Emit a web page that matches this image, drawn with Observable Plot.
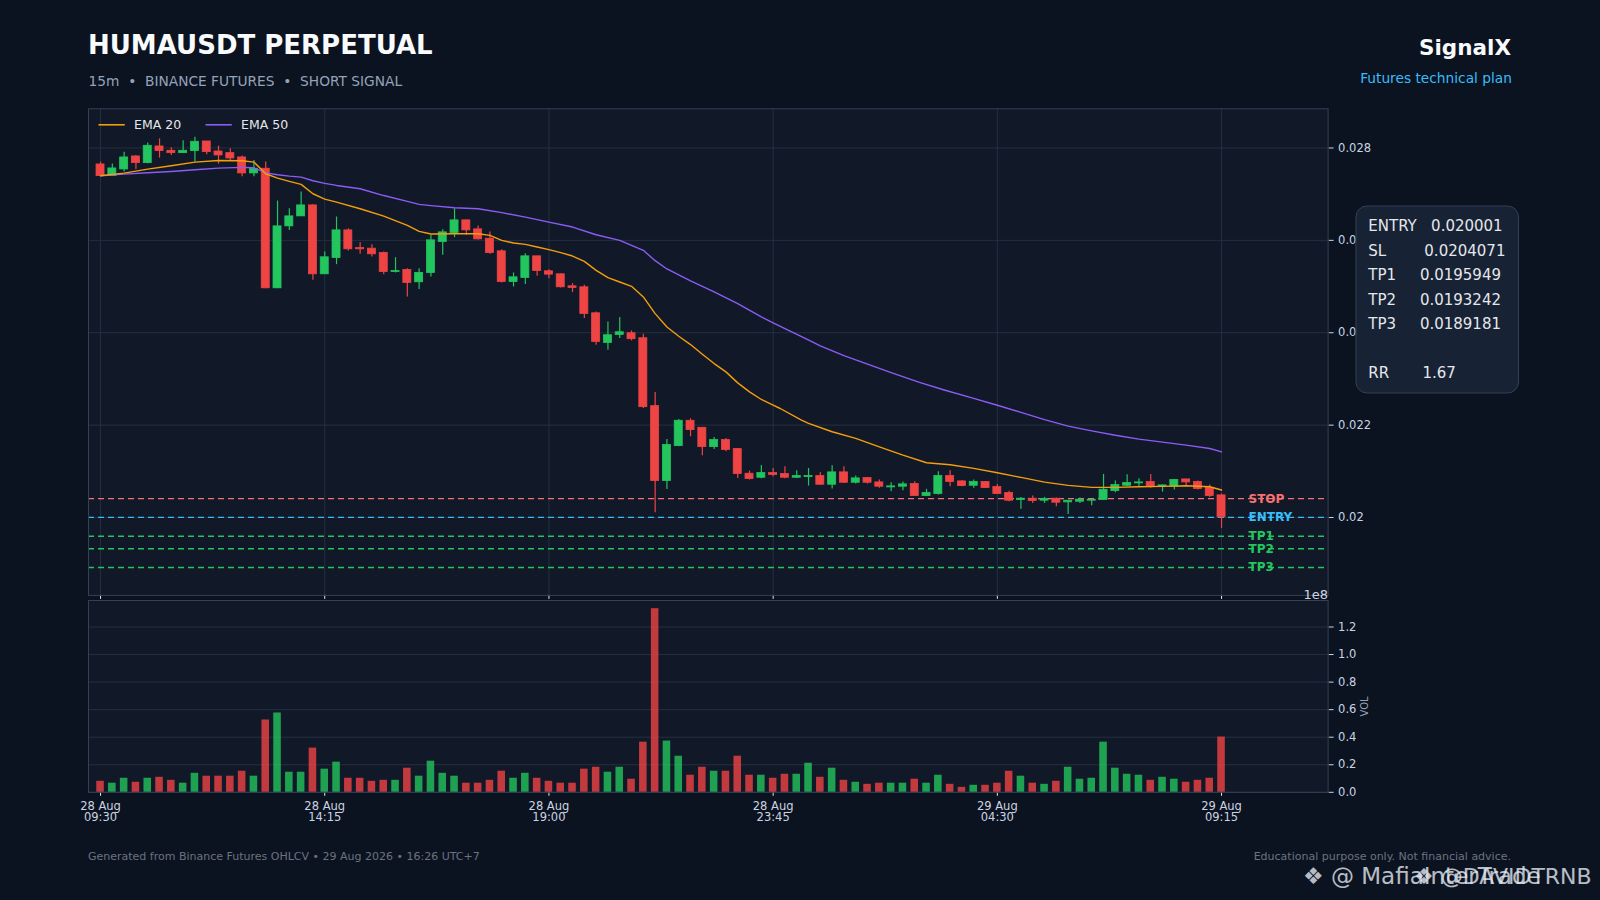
<!DOCTYPE html>
<html><head><meta charset="utf-8">
<script src="https://cdn.jsdelivr.net/npm/d3@7"></script>
<script src="https://cdn.jsdelivr.net/npm/@observablehq/plot@0.6"></script>
<style>
html,body{margin:0;padding:0;background:#0b1220;}
#root{position:relative;width:1600px;height:900px;background:#0b1220;overflow:hidden;font-family:"DejaVu Sans",sans-serif;}
#root > svg{position:absolute;left:0;}
</style></head><body><div id="root"></div>
<script>
// ---------------- DATA ----------------
const opens = [0.027643,0.027391,0.027535,0.027816,0.027672,0.028033,0.027939,0.027888,0.027932,0.028141,
0.027924,0.027888,0.027795,0.027449,0.027550,0.024962,0.026303,0.026519,0.026757,0.025265,
0.025618,0.026216,0.025834,0.025820,0.025726,0.025315,0.025359,0.025092,0.025294,0.025964,
0.026159,0.026433,0.026238,0.026036,0.025762,0.025099,0.025186,0.025654,0.025330,0.025265,
0.025005,0.024984,0.024421,0.023780,0.023953,0.023989,0.023881,0.022411,0.020789,0.021546,
0.022094,0.021942,0.021524,0.021676,0.021481,0.020948,0.020861,0.020962,0.020940,0.020861,
0.020876,0.020897,0.020710,0.020977,0.020753,0.020854,0.020760,0.020652,0.020667,0.020724,
0.020465,0.020508,0.020897,0.020782,0.020688,0.020768,0.020659,0.020530,0.020378,0.020407,
0.020364,0.020407,0.020328,0.020342,0.020364,0.020378,0.020573,0.020688,0.020739,0.020768,
0.020667,0.020667,0.020825,0.020768,0.020638,0.020479];
const highs = [0.027694,0.027651,0.027910,0.027838,0.028105,0.028198,0.028004,0.028155,0.028234,0.028141,
0.028040,0.027982,0.027824,0.027730,0.027694,0.026851,0.026685,0.027045,0.026771,0.025748,
0.026505,0.026252,0.025950,0.025906,0.025748,0.025625,0.025388,0.025388,0.026108,0.026231,
0.026685,0.026433,0.026310,0.026180,0.025798,0.025294,0.025712,0.025654,0.025366,0.025279,
0.025063,0.025027,0.024450,0.024234,0.024328,0.024040,0.023968,0.022706,0.021690,0.022123,
0.022137,0.021942,0.021733,0.021712,0.021495,0.021005,0.021128,0.021063,0.021099,0.021012,
0.021063,0.020969,0.021121,0.021099,0.020897,0.020868,0.020811,0.020753,0.020768,0.020775,
0.020609,0.020991,0.021012,0.020796,0.020811,0.020775,0.020717,0.020566,0.020436,0.020465,
0.020436,0.020422,0.020371,0.020422,0.020393,0.020933,0.020789,0.020926,0.020840,0.020933,
0.020703,0.020825,0.020825,0.020789,0.020703,0.020508];
const lows = [0.027377,0.027384,0.027478,0.027535,0.027658,0.027780,0.027838,0.027888,0.027694,0.027852,
0.027650,0.027715,0.027377,0.027377,0.024955,0.024955,0.026216,0.026519,0.025135,0.025265,
0.025474,0.025770,0.025698,0.025640,0.025258,0.025294,0.024775,0.024934,0.025207,0.025676,
0.026058,0.026108,0.026007,0.025698,0.025077,0.024991,0.025042,0.025222,0.025171,0.024969,
0.024868,0.024306,0.023730,0.023622,0.023874,0.023824,0.022360,0.020104,0.020609,0.021532,
0.021748,0.021337,0.021474,0.021424,0.020847,0.020811,0.020840,0.020883,0.020840,0.020847,
0.020681,0.020695,0.020616,0.020739,0.020724,0.020724,0.020631,0.020559,0.020580,0.020458,
0.020458,0.020487,0.020667,0.020667,0.020631,0.020631,0.020501,0.020342,0.020177,0.020306,
0.020306,0.020234,0.020068,0.020306,0.020256,0.020378,0.020537,0.020674,0.020667,0.020631,
0.020551,0.020595,0.020695,0.020595,0.020436,0.019766];
const closes = [0.027391,0.027557,0.027795,0.027672,0.028047,0.027932,0.027888,0.027939,0.028133,0.027910,
0.027838,0.027773,0.027449,0.027550,0.024962,0.026303,0.026519,0.026757,0.025265,0.025633,
0.026216,0.025806,0.025806,0.025698,0.025315,0.025337,0.025078,0.025294,0.026000,0.026173,
0.026433,0.026216,0.026022,0.025726,0.025099,0.025200,0.025654,0.025337,0.025258,0.024984,
0.024969,0.024407,0.023802,0.023946,0.024011,0.023860,0.022389,0.020789,0.021568,0.022094,
0.021892,0.021524,0.021676,0.021460,0.020941,0.020832,0.020962,0.020919,0.020861,0.020897,
0.020897,0.020710,0.020977,0.020753,0.020847,0.020753,0.020667,0.020674,0.020717,0.020465,
0.020530,0.020897,0.020768,0.020681,0.020768,0.020638,0.020508,0.020364,0.020407,0.020357,
0.020400,0.020321,0.020364,0.020386,0.020386,0.020602,0.020703,0.020746,0.020760,0.020667,
0.020695,0.020811,0.020760,0.020616,0.020465,0.020004];
// volume in units of 1e8
const volumes = [0.080,0.066,0.102,0.073,0.102,0.109,0.087,0.066,0.138,0.117,
0.117,0.117,0.153,0.117,0.525,0.576,0.146,0.146,0.321,0.168,
0.219,0.102,0.102,0.080,0.087,0.087,0.175,0.117,0.226,0.138,
0.117,0.066,0.066,0.087,0.153,0.102,0.138,0.102,0.080,0.066,
0.066,0.168,0.182,0.146,0.182,0.095,0.364,1.333,0.372,0.262,
0.124,0.182,0.153,0.153,0.262,0.124,0.124,0.102,0.131,0.131,
0.211,0.109,0.175,0.087,0.073,0.058,0.066,0.066,0.066,0.095,
0.066,0.124,0.058,0.036,0.051,0.051,0.066,0.153,0.117,0.066,
0.058,0.080,0.182,0.095,0.102,0.364,0.175,0.131,0.124,0.087,
0.109,0.095,0.073,0.087,0.102,0.401];

const ema20Idx = [0,2,4,6,8,10,12,13,14,15,16,17,18,19,20,22,24,26,27,28,30,32,33,34,35,36,37,38,39,40,41,42,43,44,45,46,47,48,49,50,51,52,53,54,55,56,57,57.6,59.4,60,62,64,66,68,70,72,74,76,78,80,82,84,86,88,90,92,94,95];
const ema20Val = [0.027398,0.027456,0.027542,0.027615,0.027694,0.027730,0.027723,0.027694,0.027442,0.027348,0.027276,0.027211,0.027009,0.026894,0.026829,0.026685,0.026526,0.026325,0.026195,0.026137,0.026144,0.026144,0.026108,0.026000,0.025942,0.025913,0.025856,0.025798,0.025733,0.025661,0.025546,0.025351,0.025193,0.025099,0.025005,0.024775,0.024414,0.024126,0.023924,0.023744,0.023535,0.023333,0.023153,0.022915,0.022721,0.022555,0.022432,0.022360,0.022108,0.022040,0.021856,0.021712,0.021531,0.021351,0.021186,0.021142,0.021063,0.020969,0.020868,0.020767,0.020695,0.020652,0.020652,0.020667,0.020674,0.020688,0.020667,0.020595];
const ema50Idx = [0,2,4,6,8,10,12,13,14,15,16,17,18,19,20,22,24,26,27,28,30,32,34,36,38,40,42,44,46,47,48,50,52,54,56,57,58,59.5,61,63,65,67,69.4,71.5,73.7,76,78,80,82,84,86,88,90,92,94,95];
const ema50Val = [0.027398,0.027434,0.027463,0.027492,0.027528,0.027564,0.027579,0.027571,0.027460,0.027420,0.027391,0.027369,0.027290,0.027233,0.027189,0.027117,0.026970,0.026845,0.026779,0.026753,0.026706,0.026685,0.026600,0.026504,0.026396,0.026288,0.026122,0.026000,0.025784,0.025560,0.025380,0.025121,0.024883,0.024631,0.024342,0.024216,0.024090,0.023905,0.023718,0.023505,0.023320,0.023135,0.022925,0.022760,0.022600,0.022430,0.022277,0.022120,0.021978,0.021875,0.021780,0.021697,0.021632,0.021567,0.021495,0.021420];

const tickIdx = [0,19,38,57,76,95];
const tickDates = ["28 Aug","28 Aug","28 Aug","28 Aug","29 Aug","29 Aug"];
const tickTimes = ["09:30","14:15","19:00","23:45","04:30","09:15"];
const priceTicks = [0.020,0.022,0.024,0.026,0.028];
const priceTickLabels = ["0.02","0.022","0.024","0.026","0.028"];
const volTicks = [0,0.2,0.4,0.6,0.8,1.0,1.2];
const volTickLabels = ["0.0","0.2","0.4","0.6","0.8","1.0","1.2"];

const levelNames = ["STOP","ENTRY","TP1","TP2","TP3"];
const levelValues = [0.0204071,0.020001,0.0195949,0.0193242,0.0189181];
const levelColors = ["#f87171","#38bdf8","#22c55e","#22c55e","#22c55e"];

const boxLabels = ["ENTRY","SL","TP1","TP2","TP3","","RR"];
const boxValues = ["0.020001","0.0204071","0.0195949","0.0193242","0.0189181","","1.67"];
const boxPads = [3,8,5,5,5,0,7];

// ---------------- BUILD ----------------
const GREEN = "#22c55e", RED = "#ef4444";
const candles = closes.map((c,i)=>({i, open:opens[i], high:highs[i], low:lows[i], close:c, vol:volumes[i]}));
const colorOf = d => d.close >= d.open ? GREEN : RED;
const ema20 = ema20Idx.map((i,k)=>({i, v:ema20Val[k]}));
const ema50 = ema50Idx.map((i,k)=>({i, v:ema50Val[k]}));
const levels = levelNames.map((n,k)=>({label:n, value:levelValues[k], color:levelColors[k]}));
const priceLabelMap = new Map(priceTicks.map((t,k)=>[t, priceTickLabels[k]]));
const volLabelMap = new Map(volTicks.map((t,k)=>[t, volTickLabels[k]]));
const tickLabelMap = new Map(tickIdx.map((t,k)=>[t, tickDates[k]+"\n"+tickTimes[k]]));

const W = 1600, frameL = 88, frameR = 1327.6;
const xDomain = [-1.02, 104.03];
const GRID = "#243041", FRAME = "#334155", PANEL = "#111827";
const root = document.getElementById("root");

const price = Plot.plot({
  width: W, height: 600,
  marginLeft: frameL, marginRight: W - frameR, marginTop: 108.3, marginBottom: 5.1,
  style: {background: "transparent", color: "#cbd5e1", fontFamily: "DejaVu Sans", fontSize: "11.5px", overflow: "visible"},
  x: {type: "linear", domain: xDomain, label: null},
  y: {type: "linear", domain: [0.018314, 0.028848], label: null},
  marks: [
    Plot.frame({fill: PANEL, stroke: null}),
    Plot.gridX(tickIdx, {stroke: GRID, strokeOpacity: 1}),
    Plot.gridY(priceTicks, {stroke: GRID, strokeOpacity: 1}),
    Plot.ruleY(levels, {y: "value", stroke: d => d.color, strokeDasharray: "6,4", strokeWidth: 1.3}),
    Plot.ruleX(candles, {x: "i", y1: "low", y2: "high", stroke: colorOf, strokeWidth: 1.2}),
    Plot.rect(candles, {x1: d => d.i - 0.34, x2: d => d.i + 0.34, y1: "open", y2: "close", fill: colorOf, stroke: colorOf, strokeWidth: 0.8}),
    Plot.line(ema50, {x: "i", y: "v", stroke: "#8b5cf6", strokeWidth: 1.4}),
    Plot.line(ema20, {x: "i", y: "v", stroke: "#f59e0b", strokeWidth: 1.4}),
    Plot.text(levels, {y: "value", text: "label", frameAnchor: "right", dx: -79.6, textAnchor: "start", fill: d => d.color, fontWeight: "bold", fontSize: 12}),
    Plot.axisX(tickIdx, {anchor: "bottom", tickSize: 4, tickFormat: () => "", stroke: "#e5e7eb", label: null}),
    Plot.axisY(priceTicks, {anchor: "right", tickSize: 5, tickPadding: 5, tickFormat: d => priceLabelMap.get(d), label: null}),
    Plot.frame({stroke: FRAME, fill: null})
  ]
});
price.style.top = "0px";
root.appendChild(price);

const volTop = 560, volH = 280;
const vol = Plot.plot({
  width: W, height: volH,
  marginLeft: frameL, marginRight: W - frameR, marginTop: 600 - volTop, marginBottom: volTop + volH - 791.8,
  style: {background: "transparent", color: "#cbd5e1", fontFamily: "DejaVu Sans", fontSize: "11.5px", overflow: "visible"},
  x: {type: "linear", domain: xDomain, label: null},
  y: {type: "linear", domain: [0, 1.3924], label: null},
  marks: [
    Plot.frame({fill: PANEL, stroke: null}),
    Plot.gridY(volTicks, {stroke: GRID, strokeOpacity: 1}),
    Plot.rect(candles, {x1: d => d.i - 0.32, x2: d => d.i + 0.32, y1: 0, y2: "vol", fill: colorOf, fillOpacity: 0.8}),
    Plot.axisX(tickIdx, {anchor: "bottom", tickSize: 4, tickPadding: 5, lineHeight: 1.02, tickFormat: d => tickLabelMap.get(d), stroke: "#e5e7eb", label: null}),
    Plot.axisY(volTicks, {anchor: "right", tickSize: 5, tickPadding: 5, tickFormat: d => volLabelMap.get(d), label: null}),
    Plot.frame({stroke: FRAME, fill: null}),
    Plot.text(["VOL"], {text: d => d, frameAnchor: "right", dx: 36.4, rotate: -90, fontSize: 10, fill: "#94a3b8"}),
    Plot.text(["1e8"], {text: d => d, frameAnchor: "top-right", dy: -11, textAnchor: "end", fontSize: 13, fill: "#cbd5e1"})
  ]
});
vol.style.top = volTop + "px";
root.appendChild(vol);

// ---------------- OVERLAY (titles, legend, info box, footer) ----------------
const ov = d3.select(root).append("svg").attr("width", W).attr("height", 900)
  .style("top", "0px").style("font-family", "DejaVu Sans, sans-serif");
function txt(x, y, s, size, fill, opt = {}) {
  return ov.append("text").attr("x", x).attr("y", y).text(s)
    .attr("font-size", size).attr("fill", fill)
    .attr("font-weight", opt.bold ? "bold" : null)
    .attr("text-anchor", opt.anchor || "start")
    .attr("opacity", opt.opacity == null ? null : opt.opacity)
    .style("white-space", "pre");
}
txt(88, 54, "HUMAUSDT PERPETUAL", 26, "#f8fafc", {bold: true});
txt(88.5, 86, "15m  \u2022  BINANCE FUTURES  \u2022  SHORT SIGNAL", 13.75, "#94a3b8");
txt(1511, 55, "SignalX", 21.5, "#f8fafc", {bold: true, anchor: "end"});
txt(1512, 83, "Futures technical plan", 13.75, "#38bdf8", {anchor: "end"});

// legend
ov.append("line").attr("x1", 98.5).attr("x2", 124.8).attr("y1", 124.8).attr("y2", 124.8).attr("stroke", "#f59e0b").attr("stroke-width", 1.6);
txt(134, 129.3, "EMA 20", 12.5, "#e5e7eb");
ov.append("line").attr("x1", 205.5).attr("x2", 231.8).attr("y1", 124.8).attr("y2", 124.8).attr("stroke", "#8b5cf6").attr("stroke-width", 1.6);
txt(241, 129.3, "EMA 50", 12.5, "#e5e7eb");

// info box
ov.append("rect").attr("x", 1356).attr("y", 206).attr("width", 162.5).attr("height", 187).attr("rx", 11)
  .attr("fill", "#172235").attr("stroke", "#334155").attr("stroke-width", 1);
boxLabels.forEach((l, k) => {
  if (!l) return;
  txt(1368.3, 231 + k * 24.55, l + " ".repeat(boxPads[k]) + boxValues[k], 15, "#e5e7eb");
});

// footer
txt(88, 859.5, "Generated from Binance Futures OHLCV \u2022 29 Aug 2026 \u2022 16:26 UTC+7", 11, "#6b7280");
txt(1511, 859.5, "Educational purpose only. Not financial advice.", 11, "#6b7280", {anchor: "end"});

// watermark (two overlapping handles, as in the reference)
txt(1303, 884, "\u2756 @ MafiaInterTrade", 23, "#e2e8f0", {opacity: 0.8});
txt(1414, 884, "\u2756 @DAVIDTRNB", 22, "#e2e8f0", {opacity: 0.8});
</script></body></html>
